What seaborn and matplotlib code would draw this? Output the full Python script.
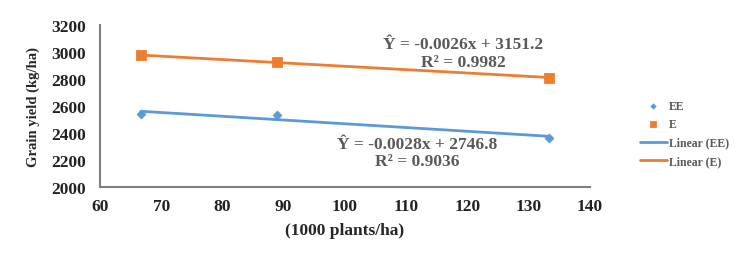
import numpy as np
import pandas as pd
import seaborn as sns
import matplotlib.pyplot as plt

density = [66.7, 88.9, 133.3]
yield_ee = [2540, 2530, 2365]
yield_e = [2975, 2925, 2810]
eq_ee = ["Ŷ = -0.0028x + 2746.8", "R² = 0.9036"]
eq_e = ["Ŷ = -0.0026x + 3151.2", "R² = 0.9982"]

blue = "#5B9BD5"
orange = "#ED7D31"
grey = "#595959"

sns.set_style("white")
plt.rcParams['font.family'] = ['Liberation Serif', 'DejaVu Serif']
plt.rcParams['font.weight'] = 'bold'

df = pd.DataFrame({"x": density + density,
                   "y": yield_ee + yield_e,
                   "s": ["EE"] * 3 + ["E"] * 3})

fig = plt.figure(figsize=(7.49, 2.55), dpi=100)
ax = fig.add_axes([0.1335, 0.263, 0.654, 0.635])

sns.scatterplot(data=df[df.s == "EE"], x="x", y="y", marker="D", s=22,
                color=blue, edgecolor=blue, ax=ax, label="EE", zorder=3)
sns.scatterplot(data=df[df.s == "E"], x="x", y="y", marker="s", s=55,
                color=orange, edgecolor=orange, ax=ax, label="E", zorder=3)
sns.regplot(data=df[df.s == "EE"], x="x", y="y", scatter=False, ci=None,
            truncate=True, color=blue, line_kws={"lw": 2}, ax=ax, label="Linear (EE)")
sns.regplot(data=df[df.s == "E"], x="x", y="y", scatter=False, ci=None,
            truncate=True, color=orange, line_kws={"lw": 2}, ax=ax, label="Linear (E)")

ax.set_xlim(60, 140)
ax.set_ylim(2000, 3200)
ax.set_xticks(range(60, 141, 10))
ax.set_yticks(range(2000, 3201, 200))
ax.tick_params(labelsize=12.5, colors="#222222", length=0)
ax.tick_params(axis="y", pad=10)
ax.tick_params(axis="x", pad=8)
for t in ax.get_xticklabels() + ax.get_yticklabels():
    t.set_fontweight("bold")
for side in ["top", "right"]:
    ax.spines[side].set_visible(False)
for side in ["left", "bottom"]:
    ax.spines[side].set_color("#7f7f7f")
    ax.spines[side].set_linewidth(1.5)

ax.set_xlabel("(1000 plants/ha)", fontsize=12.5, fontweight="bold", labelpad=6)
ax.set_ylabel("Grain yield (kg/ha)", fontsize=10.5, fontweight="bold", labelpad=8)

ax.text(0.741, 0.885, eq_e[0], transform=ax.transAxes, ha="center", va="center",
        fontsize=12.5, fontweight="bold", color=grey)
ax.text(0.741, 0.774, eq_e[1], transform=ax.transAxes, ha="center", va="center",
        fontsize=12.5, fontweight="bold", color=grey)
ax.text(0.647, 0.265, eq_ee[0], transform=ax.transAxes, ha="center", va="center",
        fontsize=12.5, fontweight="bold", color=grey)
ax.text(0.647, 0.16, eq_ee[1], transform=ax.transAxes, ha="center", va="center",
        fontsize=12.5, fontweight="bold", color=grey)

leg = ax.legend(loc="center left", bbox_to_anchor=(1.08, 0.33), frameon=False,
                fontsize=8.5, handlelength=2.3, labelspacing=0.55, handletextpad=0.15,
                markerscale=0.6)
for t in leg.get_texts():
    t.set_color(grey)
    t.set_fontweight("bold")

fig.savefig("out.png", dpi=100)
